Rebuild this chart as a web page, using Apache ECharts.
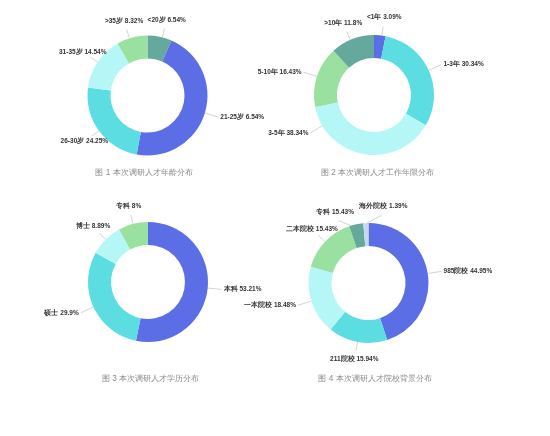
<!DOCTYPE html>
<html>
<head>
<meta charset="utf-8">
<script src="https://cdn.jsdelivr.net/npm/echarts@6/dist/echarts.min.js"></script>
<style>
  html, body { margin: 0; padding: 0; background: #fff; }
  #main { width: 550px; height: 436px; }
</style>
</head>
<body>
<div id="main"></div>
<script>
'use strict';

// 图1 年龄
const ageNames = ['<20岁', '21-25岁', '26-30岁', '31-35岁', '>35岁']
const ageValues = [6.54, 46.35, 24.25, 14.54, 8.32]
const ageText = ['6.54%', '6.54%', '24.25%', '14.54%', '8.32%']

// 图2 工作年限
const yearNames = ['<1年', '1-3年', '3-5年', '5-10年', '>10年']
const yearValues = [3.09, 30.34, 38.34, 16.43, 11.8]
const yearText = ['3.09%', '30.34%', '38.34%', '16.43%', '11.8%']

// 图3 学历
const eduNames = ['本科', '硕士', '博士', '专科']
const eduValues = [53.21, 29.9, 8.89, 8]
const eduText = ['53.21%', '29.9%', '8.89%', '8%']

// 图4 院校背景
const schoolNames = ['985院校', '211院校', '一本院校', '二本院校', '专科', '海外院校']
const schoolValues = [44.95, 15.94, 18.48, 15.43, 3.81, 1.39]
const schoolText = ['44.95%', '15.94%', '18.48%', '15.43%', '15.43%', '1.39%']

const titles = ['图 1 本次调研人才年龄分布', '图 2 本次调研人才工作年限分布', '图 3 本次调研人才学历分布', '图 4 本次调研人才院校背景分布']

const C = {
  blue: '#5c6ee6', cyan: '#5cdde2', lcyan: '#b4f7f6',
  green: '#9ae0a0', teal: '#65a99d', lav: '#c8d8f4'
}

const R_IN = 37, R_OUT = 60
const LABEL_FONT = 'bold 6.5px sans-serif'
const LABEL_H = 8

const pies = [
  { names: ageNames, values: ageValues, text: ageText, center: [147.5, 95.5], maxDown: 100,
    colors: [C.teal, C.blue, C.cyan, C.lcyan, C.green] },
  { names: yearNames, values: yearValues, text: yearText, center: [374, 95], maxDown: 40,
    colors: [C.blue, C.cyan, C.lcyan, C.green, C.teal] },
  { names: eduNames, values: eduValues, text: eduText, center: [148, 282], maxDown: 100,
    colors: [C.blue, C.cyan, C.lcyan, C.green] },
  { names: schoolNames, values: schoolValues, text: schoolText, center: [368.5, 283], maxDown: 100,
    colors: [C.blue, C.cyan, C.lcyan, C.green, C.teal, C.lav] }
]

const ctx = document.createElement('canvas').getContext('2d')
ctx.font = LABEL_FONT

function labelStr(p, i) { return p.names[i] + ' ' + p.text[i] }

function pt(c, r, deg) {
  const a = deg * Math.PI / 180
  return [c[0] + r * Math.sin(a), c[1] - r * Math.cos(a)]
}

// where the text box sits for a given angle
function place(c, deg, w) {
  const s = Math.sin(deg * Math.PI / 180)
  if (Math.abs(s) > 0.85) {
    const a = pt(c, R_OUT + 14, deg)
    const x0 = s > 0 ? a[0] + 2 : a[0] - 2 - w
    return { anchor: a, x: s > 0 ? a[0] + 2 : a[0] - 2, y: a[1],
      align: s > 0 ? 'left' : 'right', box: [x0, a[1] - LABEL_H / 2, w, LABEL_H] }
  }
  const m = pt(c, R_OUT + 18, deg)
  return { anchor: pt(c, R_OUT + 9, deg), x: m[0], y: m[1], align: 'center',
    box: [m[0] - w / 2, m[1] - LABEL_H / 2, w, LABEL_H] }
}

function overlap(a, b) {
  return a[0] < b[0] + b[2] + 4 && b[0] < a[0] + a[2] + 4 &&
    a[1] < b[1] + b[3] + 1 && b[1] < a[1] + a[3] + 1
}

function layoutLabels(p) {
  const total = p.values.reduce(function(s, v) { return s + v }, 0)
  let acc = 0
  const items = p.values.map(function(v, i) {
    const from = acc / total * 360
    acc += v
    const to = acc / total * 360
    let ang = (from + to) / 2
    const rc = R_OUT + 18
    // keep the label above the caption under the ring
    if (-Math.cos(ang * Math.PI / 180) * rc > p.maxDown) {
      const d = Math.acos(p.maxDown / rc) * 180 / Math.PI
      ang = ang > 180 ? 180 + d : 180 - d
    }
    return { from: from, to: to, ang: ang, w: ctx.measureText(labelStr(p, i)).width }
  })
  for (let k = 0; k < 200; k++) {
    let moved = false
    for (let i = 0; i < items.length; i++) {
      for (let j = i + 1; j < items.length; j++) {
        const a = items[i], b = items[j]
        if (overlap(place(p.center, a.ang, a.w).box, place(p.center, b.ang, b.w).box)) {
          const d = ((b.ang - a.ang + 540) % 360) - 180
          const sgn = d >= 0 ? 1 : -1
          b.ang += 0.5 * sgn
          a.ang -= 0.5 * sgn
          moved = true
        }
      }
    }
    if (!moved) break
  }
  return items.map(function(it) {
    const pl = place(p.center, it.ang, it.w)
    // line leaves the ring inside its own slice, as close to the label as it can
    const inset = Math.min(1.5, (it.to - it.from) / 2)
    let a = ((it.ang - it.from + 540) % 360) - 180 + it.from
    a = Math.max(it.from + inset, Math.min(it.to - inset, a))
    pl.start = pt(p.center, R_OUT, a)
    return pl
  })
}

const layouts = pies.map(layoutLabels)

const chart = echarts.init(document.getElementById('main'))

function series(p, si) {
  return {
    type: 'pie',
    center: p.center,
    radius: [R_IN, R_OUT],
    startAngle: 90,
    avoidLabelOverlap: false,
    data: p.names.map(function(n, i) {
      return { name: n, value: p.values[i], itemStyle: { color: p.colors[i] } }
    }),
    label: {
      formatter: function(q) { return labelStr(p, q.dataIndex) },
      color: '#333',
      fontSize: 6.5,
      fontWeight: 'bold'
    },
    labelLine: {
      length: 9,
      length2: 0,
      lineStyle: { color: '#c8c8c8', width: 0.8 }
    },
    labelLayout: function(params) {
      const l = layouts[si][params.dataIndex]
      return {
        x: l.x,
        y: l.y,
        align: l.align,
        verticalAlign: 'middle',
        labelLinePoints: [l.start, l.anchor, l.anchor]
      }
    },
    emphasis: { disabled: true }
  }
}

function title(text, x, y) {
  return {
    text: text,
    left: x,
    top: y,
    padding: 0,
    textAlign: 'center',
    textStyle: { color: '#8a8a8a', fontSize: 8.2, fontWeight: 'normal' }
  }
}

const option = {
  animation: false,
  title: [
    title(titles[0], 144, 168.5),
    title(titles[1], 377.5, 168.5),
    title(titles[2], 150.5, 375),
    title(titles[3], 375, 375)
  ],
  series: pies.map(series)
}
chart.setOption(option)
</script>
</body>
</html>
